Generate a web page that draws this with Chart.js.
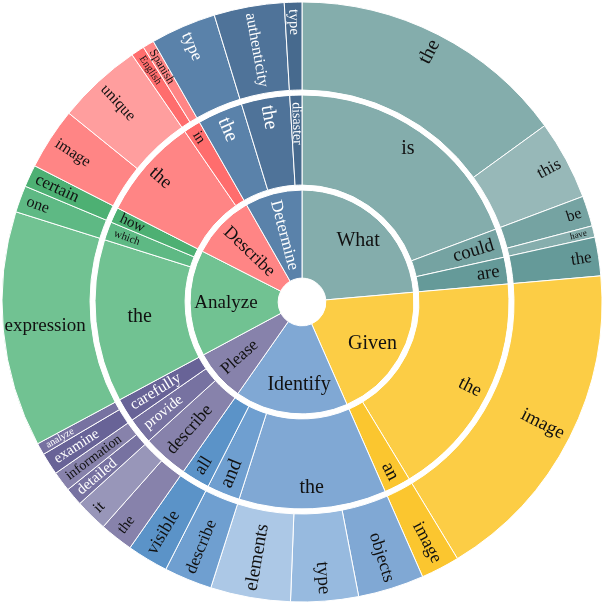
<!DOCTYPE html>
<html><head><meta charset="utf-8">
<script src="https://cdn.jsdelivr.net/npm/chart.js@4.4.0/dist/chart.umd.min.js"></script>
<style>html,body{margin:0;padding:0;background:#fff;} #wrap{width:606px;height:606px;}</style>
</head><body><div id="wrap"><canvas id="c" width="606" height="606"></canvas></div>
<script>
// ---------- DATA ----------
const level1Labels = ['What','Given','Identify','Please','Analyze','Describe','Determine'];
const level2Labels = ['is','could','are','the','an','the','and','all','describe','provide','carefully','the','which','how','the','in','the','the','disaster'];
const level2Parent = [0,0,0,1,1,2,2,2,3,3,3,4,4,4,5,5,6,6,6];
const level3Labels = ['the','this','be','have','the','image','image','objects','type','elements','describe','visible','the','it','detailed','information','examine','analyze','expression','one','certain','image','unique','English','Spanish','type','authenticity','type'];
const level3Parent = [0,0,1,1,2,3,4,5,5,5,6,7,8,8,9,9,10,10,11,12,13,14,14,15,15,16,17,18];
const level3Values = [54,15.4,5.9,2.2,7.5,63.8,7.5,12.8,13.1,15.5,9.3,8,6.5,6.3,3.5,3.9,4.3,2.3,45.7,5.2,4.3,12,16.5,2.6,2.2,12.7,13.6,3.4];

// parent totals (sunburst: parent = sum of its children)
const level2Values = level2Labels.map((_, i) => level3Values.reduce((s, v, j) => s + (level3Parent[j] === i ? v : 0), 0));
const level1Values = level1Labels.map((_, i) => level2Values.reduce((s, v, j) => s + (level2Parent[j] === i ? v : 0), 0));

// ---------- STYLES ----------
const level1Colors = ['#84adac','#fccd45','#80a8d4','#8782ab','#71c292','#ff8585','#5a82aa'];
const level2Colors = ['#84adac','#75a3a2','#659a99','#fccd45','#fbc62f','#80a8d4','#6f9fd0','#5b93c8','#8782ab','#7772a1','#686397','#71c292','#5eb984','#4db073','#ff8585','#ff6d6d','#5a82aa','#4f7399','#476a8e'];
const level3Colors = ['#84adac','#97b8b8','#75a3a2','#86aead','#659a99','#fccd45','#fbc62f','#80a8d4','#97badf','#acc8e6','#6f9fd0','#5b93c8','#8782ab','#9896b9','#7772a1','#8782ab','#686397','#7772a1','#71c292','#5eb984','#4db073','#ff8585','#ff9e9e','#ff6d6d','#ff8585','#5a82aa','#4f7399','#476a8e'];

const W = '#ffffff';
const level1Style = [{o:'h',f:20,r:83},{o:'h',f:20,r:82},{o:'h',f:20,r:83,a:182},{o:'r',f:17},{o:'h',f:19,r:76},{o:'r',f:18},{o:'r',f:17,c:W}];
const level2Style = [{o:'h',f:20,r:186},{o:'r',f:19},{o:'r',f:19},{o:'r',f:19},{o:'r',f:19},{o:'h',f:20,r:186},{o:'r',f:20},{o:'r',f:18},{o:'r',f:18},{o:'r',f:15,c:W},{o:'r',f:16,c:W},{o:'h',f:20,r:163},{o:'r',f:11},{o:'r',f:15},{o:'r',f:19},{o:'r',f:15},{o:'r',f:20,c:W},{o:'r',f:20,c:W},{o:'r',f:14,c:W}];
const level3Style = [{o:'r',f:20},{o:'r',f:17},{o:'r',f:16},{o:'r',f:9},{o:'r',f:17},{o:'r',f:19},{o:'r',f:18},{o:'r',f:18},{o:'r',f:19},{o:'r',f:19},{o:'r',f:17},{o:'r',f:18},{o:'r',f:15},{o:'r',f:16},{o:'r',f:15,c:W},{o:'r',f:14},{o:'r',f:15,c:W},{o:'r',f:10,c:W},{o:'h',f:19,r:258},{o:'r',f:16},{o:'r',f:17},{o:'r',f:16},{o:'r',f:16},{o:'r',f:10.5},{o:'r',f:12},{o:'r',f:17,c:W},{o:'r',f:16,c:W},{o:'r',f:15,c:W}];

const FONT = '"Liberation Serif", "Times New Roman", serif';

const rings = [
  {ds:0, labels: level3Labels, style: level3Style},
  {ds:2, labels: level2Labels, style: level2Style},
  {ds:4, labels: level1Labels, style: level1Style}
];

const labelPlugin = {
  id: 'sunLabels',
  afterDatasetsDraw(chart) {
    const ctx = chart.ctx;
    rings.forEach(ring => {
      const meta = chart.getDatasetMeta(ring.ds);
      meta.data.forEach((arc, i) => {
        const p = arc.getProps(['x','y','startAngle','endAngle','innerRadius','outerRadius'], true);
        const st = ring.style[i];
        const txt = ring.labels[i];
        const a = (p.startAngle + p.endAngle) / 2;
        ctx.save();
        ctx.font = st.f + 'px ' + FONT;
        ctx.fillStyle = st.c || '#111111';
        ctx.textAlign = 'center';
        ctx.textBaseline = 'middle';
        const w = ctx.measureText(txt).width;
        let r, rot;
        if (st.o === 'h') { r = st.r; rot = 0; }
        else {
          r = Math.max((p.innerRadius + p.outerRadius) / 2, p.outerRadius - 7 - w / 2);
          const th = (((a + Math.PI / 2) % (2 * Math.PI)) + 2 * Math.PI) % (2 * Math.PI);
          rot = th < Math.PI ? a : a + Math.PI;
        }
        const aa = st.a !== undefined ? (st.a - 90) * Math.PI / 180 : a;
        ctx.translate(p.x + r * Math.cos(aa), p.y + r * Math.sin(aa));
        ctx.rotate(rot);
        ctx.fillText(txt, 0, 0);
        ctx.restore();
      });
    });
  }
};

new Chart(document.getElementById('c'), {
  type: 'doughnut',
  data: {
    labels: level3Labels,
    datasets: [
      {data: level3Values, backgroundColor: level3Colors, borderColor: '#ffffff', borderWidth: 1, weight: 88},
      {data: [1], backgroundColor: '#ffffff', borderWidth: 0, weight: 5},
      {data: level2Values, backgroundColor: level2Colors, borderColor: '#ffffff', borderWidth: 1, weight: 90},
      {data: [1], backgroundColor: '#ffffff', borderWidth: 0, weight: 5},
      {data: level1Values, backgroundColor: level1Colors, borderColor: '#ffffff', borderWidth: 1, weight: 88}
    ]
  },
  options: {
    responsive: false,
    animation: false,
    radius: 300,
    cutout: 24,
    hoverOffset: 0,
    layout: {padding: {left: 0, top: 0, right: 2, bottom: 2}},
    plugins: {legend: {display: false}, tooltip: {enabled: false}}
  },
  plugins: [labelPlugin]
});
</script>
</body></html>
